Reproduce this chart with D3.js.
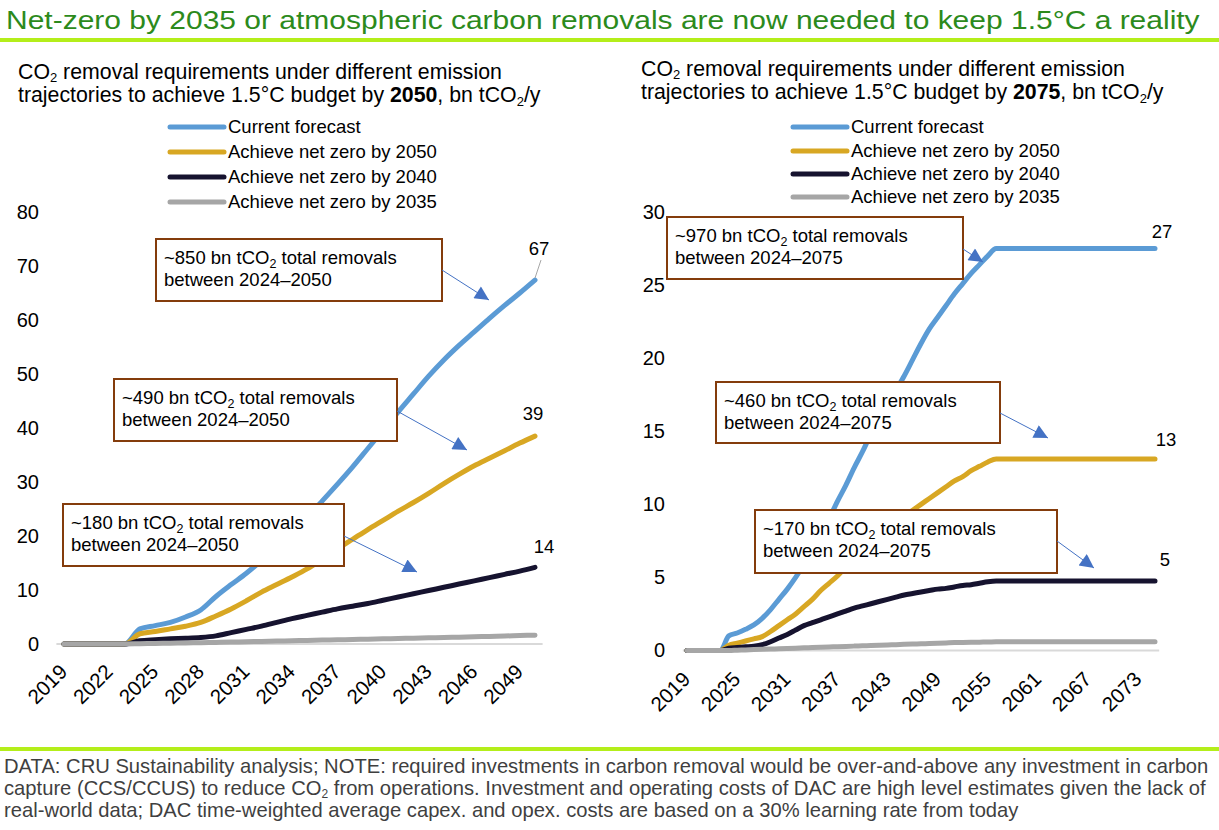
<!DOCTYPE html>
<html>
<head>
<meta charset="utf-8">
<script src="https://d3js.org/d3.v7.min.js"></script>
<style>
  body { margin: 0; background: #fff; }
  svg text { font-family: "Liberation Sans", Arial, sans-serif; fill: #000; }
</style>
</head>
<body>
<svg id="chart" width="1219" height="830"></svg>
<script>
// ---- data ----
var yearsLeft = d3.range(2019, 2051);
var yearsRight = d3.range(2019, 2076);
var tickYearsLeft = [2019, 2022, 2025, 2028, 2031, 2034, 2037, 2040, 2043, 2046, 2049];
var tickYearsRight = [2019, 2025, 2031, 2037, 2043, 2049, 2055, 2061, 2067, 2073];
var yTicksLeft = [0, 10, 20, 30, 40, 50, 60, 70, 80];
var yTicksRight = [0, 5, 10, 15, 20, 25, 30];

var seriesNames = ["Current forecast", "Achieve net zero by 2050", "Achieve net zero by 2040", "Achieve net zero by 2035"];
var seriesColors = ["#5b9bd5", "#d8a723", "#16132f", "#a6a6a6"];

// 2050 budget, 2019-2050
var forecastLeft = [0, 0, 0, 0, 0, 2.8, 3.4, 4.0, 5.0, 6.3, 8.8, 11.0, 13.1, 15.5, 18.2, 20.8, 23.5, 26.5, 29.6, 32.8,
  36.2, 39.6, 43.0, 46.3, 49.6, 52.6, 55.3, 57.8, 60.3, 62.7, 65.0, 67.4];
var nz2050Left = [0, 0, 0, 0, 0, 1.9, 2.3, 2.8, 3.3, 4.0, 5.2, 6.5, 8.0, 9.6, 11.0, 12.4, 13.9, 15.7, 17.6, 19.4,
  21.2, 22.9, 24.6, 26.2, 27.9, 29.7, 31.4, 33.0, 34.4, 35.8, 37.2, 38.5];
var nz2040Left = [0, 0, 0, 0, 0, 0.6, 0.8, 0.95, 1.05, 1.2, 1.5, 2.1, 2.7, 3.3, 4.0, 4.7, 5.3, 5.9, 6.5, 7.0,
  7.5, 8.1, 8.7, 9.3, 9.9, 10.5, 11.1, 11.7, 12.3, 12.9, 13.5, 14.2];
var nz2035Left = [0, 0, 0, 0, 0, 0.05, 0.1, 0.15, 0.2, 0.25, 0.3, 0.36, 0.42, 0.48, 0.54, 0.6, 0.66, 0.72, 0.78, 0.84,
  0.9, 0.96, 1.02, 1.08, 1.14, 1.2, 1.27, 1.34, 1.41, 1.48, 1.56, 1.64];

// 2075 budget, 2019-2075
var forecastRight = [0, 0, 0, 0, 0, 1.0, 1.2, 1.45, 1.75, 2.2, 2.8, 3.5, 4.2, 5.0, 5.9, 6.9, 7.9, 9.0, 10.2, 11.3,
  12.5, 13.6, 14.8, 15.8, 16.8, 17.8, 18.8, 19.9, 21.0, 22.0, 22.8, 23.6, 24.4, 25.1, 25.8, 26.4, 27.0, 27.5,
  27.5, 27.5, 27.5, 27.5, 27.5, 27.5, 27.5, 27.5, 27.5, 27.5, 27.5, 27.5, 27.5, 27.5, 27.5, 27.5, 27.5, 27.5, 27.5];
var nz2050Right = [0, 0, 0, 0, 0, 0.35, 0.5, 0.65, 0.8, 0.95, 1.3, 1.7, 2.1, 2.5, 3.0, 3.5, 4.1, 4.6, 5.1, 5.7,
  6.2, 6.7, 7.2, 7.7, 8.2, 8.7, 9.2, 9.6, 10.0, 10.4, 10.8, 11.2, 11.6, 11.9, 12.3, 12.6, 12.9, 13.1,
  13.1, 13.1, 13.1, 13.1, 13.1, 13.1, 13.1, 13.1, 13.1, 13.1, 13.1, 13.1, 13.1, 13.1, 13.1, 13.1, 13.1, 13.1, 13.1];
var nz2040Right = [0, 0, 0, 0, 0, 0.15, 0.2, 0.25, 0.3, 0.4, 0.6, 0.85, 1.1, 1.4, 1.7, 1.9, 2.1, 2.3, 2.5, 2.7,
  2.9, 3.05, 3.2, 3.35, 3.5, 3.65, 3.8, 3.9, 4.0, 4.1, 4.2, 4.25, 4.35, 4.45, 4.5, 4.6, 4.7, 4.75,
  4.75, 4.75, 4.75, 4.75, 4.75, 4.75, 4.75, 4.75, 4.75, 4.75, 4.75, 4.75, 4.75, 4.75, 4.75, 4.75, 4.75, 4.75, 4.75];
var nz2035Right = [0, 0, 0, 0, 0, 0, 0.02, 0.04, 0.06, 0.08, 0.1, 0.12, 0.14, 0.16, 0.18, 0.2, 0.22, 0.24, 0.26, 0.28,
  0.3, 0.32, 0.34, 0.36, 0.38, 0.4, 0.42, 0.44, 0.46, 0.48, 0.5, 0.52, 0.54, 0.55, 0.56, 0.57, 0.58, 0.6,
  0.6, 0.6, 0.6, 0.6, 0.6, 0.6, 0.6, 0.6, 0.6, 0.6, 0.6, 0.6, 0.6, 0.6, 0.6, 0.6, 0.6, 0.6, 0.6];

var endLabelsLeft = ["67", "39", "14"];
var endLabelsRight = ["27", "13", "5"];
var notesLeft = ["~850", "~490", "~180"];
var notesRight = ["~970", "~460", "~170"];

var titleText = "Net-zero by 2035 or atmospheric carbon removals are now needed to keep 1.5°C a reality";
var footerLines = [
  ["DATA: CRU Sustainability analysis; NOTE: required investments in carbon removal would be over-and-above any investment in carbon"],
  ["capture (CCS/CCUS) to reduce CO", "2", " from operations. Investment and operating costs of DAC are high level estimates given the lack of"],
  ["real-world data; DAC time-weighted average capex. and opex. costs are based on a 30% learning rate from today"]
];

// ---- drawing ----
var svg = d3.select("#chart");

// the title is wide and flat in the original: stretch the glyphs to its measured width
var title = svg.append("text")
  .attr("x", 0).attr("y", 0)
  .style("font-size", "25.5px")
  .style("fill", "#2c8a1c")
  .text(titleText);
var titleLen = title.node().getComputedTextLength();
title.attr("transform", "translate(6,29) scale(" + (1194 / titleLen) + ",1)");

svg.append("rect").attr("x", 0).attr("y", 38).attr("width", 1219).attr("height", 4).attr("fill", "#b4ee1a");
svg.append("rect").attr("x", 0).attr("y", 747).attr("width", 1219).attr("height", 4).attr("fill", "#b4ee1a");

var foot = svg.append("g");
footerLines.forEach(function(parts, i) {
  var t = foot.append("text").attr("x", 4).attr("y", 773 + i * 22)
    .style("font-size", "20.2px").style("fill", "#3f3f3f");
  parts.forEach(function(p, j) {
    if (j === 1) t.append("tspan").attr("dy", 3).style("font-size", "12px").style("fill", "#3f3f3f").text(p);
    else t.append("tspan").attr("dy", j === 2 ? -3 : 0).style("fill", "#3f3f3f").text(p);
  });
});

function drawPanel(p) {
  var g = svg.append("g");

  // subtitle
  var s1 = g.append("text").attr("x", p.subX).attr("y", p.subY).style("font-size", "21.3px");
  s1.append("tspan").text("CO");
  s1.append("tspan").attr("dy", 3).style("font-size", "13px").text("2");
  s1.append("tspan").attr("dy", -3).text(" removal requirements under different emission");
  var s2 = g.append("text").attr("x", p.subX).attr("y", p.subY + 23).style("font-size", "21.3px");
  s2.append("tspan").text("trajectories to achieve 1.5°C budget by ");
  s2.append("tspan").style("font-weight", "bold").text(p.budgetYear);
  s2.append("tspan").text(", bn tCO");
  s2.append("tspan").attr("dy", 4).style("font-size", "13px").text("2");
  s2.append("tspan").attr("dy", -4).text("/y");

  // legend
  seriesNames.forEach(function(name, i) {
    var cy = p.legendY[i];
    g.append("line").attr("x1", p.legendX).attr("x2", p.legendX + 54)
      .attr("y1", cy).attr("y2", cy)
      .attr("stroke", seriesColors[i]).attr("stroke-width", 5).attr("stroke-linecap", "round");
    g.append("text").attr("x", p.legendX + 58).attr("y", cy).attr("dy", "0.35em")
      .style("font-size", "18.5px").text(name);
  });

  var x = d3.scalePoint().domain(p.years).range(p.xRange);
  var y = d3.scaleLinear().domain([0, p.yMax]).range(p.yRange);
  var step = x.step();

  // y axis
  var ya = g.append("g").attr("transform", "translate(" + p.yLabelX + ",0)")
    .call(d3.axisLeft(y).tickValues(p.yTicks).tickSize(0).tickPadding(0));
  ya.select(".domain").remove();
  ya.selectAll("text").style("font-size", "20px").style("font-family", "'Liberation Sans', Arial, sans-serif").attr("fill", "#000");

  // x axis
  g.append("line")
    .attr("x1", p.xRange[0] - step / 2).attr("x2", p.xRange[1] + step / 2)
    .attr("y1", y(0)).attr("y2", y(0))
    .attr("stroke", "#d9d9d9").attr("stroke-width", 2);
  var xa = g.append("g").attr("transform", "translate(0," + y(0) + ")")
    .call(d3.axisBottom(x).tickValues(p.xTicks).tickSize(0));
  xa.select(".domain").remove();
  xa.selectAll("text")
    .attr("y", 0).attr("dy", 0)
    .attr("text-anchor", "end")
    .attr("transform", "translate(4," + p.xLabelDrop + ") rotate(-45)")
    .attr("fill", "#000")
    .style("font-size", "20.5px").style("font-family", "'Liberation Sans', Arial, sans-serif");

  // lines
  var line = d3.line()
    .x(function(d, i) { return x(p.years[i]); })
    .y(function(d) { return y(d); })
    .curve(d3.curveMonotoneX);
  p.series.forEach(function(vals, i) {
    g.append("path").datum(vals)
      .attr("d", line)
      .attr("fill", "none")
      .attr("stroke", seriesColors[i])
      .attr("stroke-width", 5)
      .attr("stroke-linecap", "round")
      .attr("stroke-linejoin", "round");
  });

  // end labels
  p.endLabels.forEach(function(lbl, i) {
    var vals = p.series[i];
    var lx = x(p.years[p.years.length - 1]);
    var ly = y(vals[vals.length - 1]);
    var off = p.labelOffsets[i];
    if (off[2]) {
      g.append("line").attr("x1", lx).attr("y1", ly - 2).attr("x2", lx + 6).attr("y2", ly - 20)
        .attr("stroke", "#a6a6a6").attr("stroke-width", 1);
    }
    g.append("text").attr("x", lx + off[0]).attr("y", ly + off[1])
      .attr("text-anchor", "middle").style("font-size", "18.5px").text(lbl);
  });

  // annotation boxes
  p.notes.forEach(function(n, i) {
    var b = p.boxes[i];
    g.append("rect").attr("x", b[0]).attr("y", b[1]).attr("width", b[2]).attr("height", b[3])
      .attr("fill", "#fff").attr("stroke", "#843c0c").attr("stroke-width", 2);
    var t1 = g.append("text").attr("x", b[0] + 8).attr("y", b[1] + 25).style("font-size", "18.5px");
    t1.append("tspan").text(n + " bn tCO");
    t1.append("tspan").attr("dy", 4).style("font-size", "12.5px").text("2");
    t1.append("tspan").attr("dy", -4).text(" total removals");
    g.append("text").attr("x", b[0] + 8).attr("y", b[1] + 47).style("font-size", "18.5px")
      .text("between 2024\u2013" + p.budgetYear);
    var a = p.arrows[i];
    g.append("line").attr("x1", b[0] + b[2]).attr("y1", a[0])
      .attr("x2", a[1]).attr("y2", a[2])
      .attr("stroke", "#4472c4").attr("stroke-width", 1)
      .attr("marker-end", "url(#arrowHead)");
  });
}

var defs = svg.append("defs");
defs.append("marker").attr("id", "arrowHead")
  .attr("viewBox", "0 0 10 10").attr("refX", 10).attr("refY", 5)
  .attr("markerUnits", "userSpaceOnUse")
  .attr("markerWidth", 16).attr("markerHeight", 14)
  .attr("orient", "auto")
  .append("path").attr("d", "M0,0 L10,5 L0,10 z").attr("fill", "#4472c4");

drawPanel({
  budgetYear: "2050",
  years: yearsLeft,
  series: [forecastLeft, nz2050Left, nz2040Left, nz2035Left],
  xTicks: tickYearsLeft, yTicks: yTicksLeft, yMax: 80,
  xRange: [64, 535], yRange: [644, 212],
  yLabelX: 39, xLabelDrop: 29,
  subX: 18, subY: 79,
  legendX: 170, legendY: [127, 152, 177, 202],
  endLabels: endLabelsLeft,
  labelOffsets: [[4, -25, true], [-2, -16], [9, -14]],
  notes: notesLeft,
  boxes: [[156, 239, 286, 62], [114, 379, 283, 62], [63, 504, 281, 62]],
  arrows: [[270, 489, 300], [411, 467, 450], [536, 417, 572]]
});

drawPanel({
  budgetYear: "2075",
  years: yearsRight,
  series: [forecastRight, nz2050Right, nz2040Right, nz2035Right],
  xTicks: tickYearsRight, yTicks: yTicksRight, yMax: 30,
  xRange: [687, 1155], yRange: [650.5, 212],
  yLabelX: 665, xLabelDrop: 30,
  subX: 641, subY: 76,
  legendX: 793, legendY: [127, 151, 174, 197],
  endLabels: endLabelsRight,
  labelOffsets: [[7, -11], [11, -13], [10, -15]],
  notes: notesRight,
  boxes: [[667, 217, 296, 62], [716, 382, 284, 61], [755, 510, 302, 63]],
  arrows: [[249, 983, 262], [413, 1048, 438], [541, 1094, 568]]
});
</script>
</body>
</html>
